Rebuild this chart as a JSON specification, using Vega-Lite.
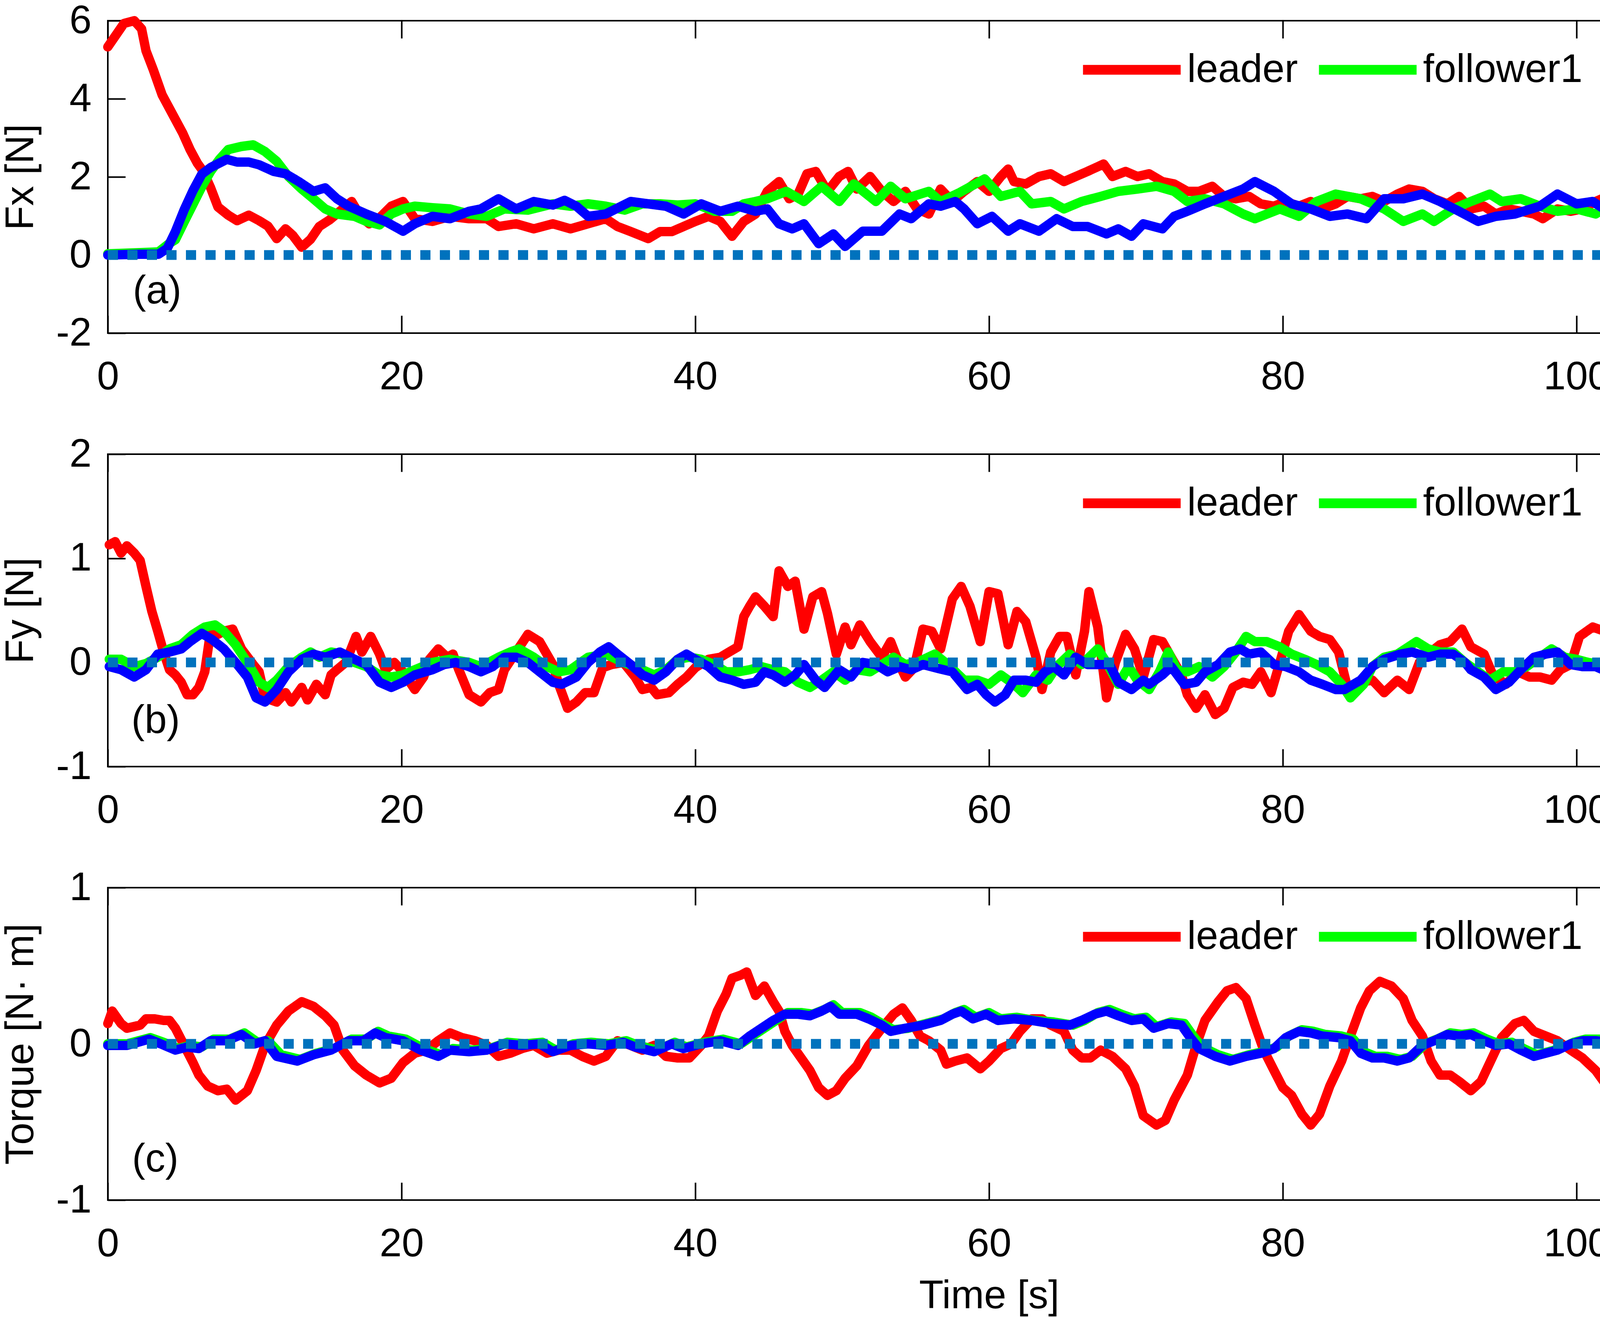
{
  "$schema": "https://vega.github.io/schema/vega-lite/v6.json",
  "background": "white",
  "padding": {"left": 0, "top": 0, "right": 0, "bottom": 0},
  "bounds": "flush",
  "spacing": 310,
  "datasets": {
    "a": [
      {"s":"leader","t":0,"v":5.33},{"s":"leader","t":1.1,"v":5.93},{"s":"leader","t":1.8,"v":6.0},{"s":"leader","t":2.3,"v":5.79},{"s":"leader","t":2.6,"v":5.23},{"s":"leader","t":3.1,"v":4.74},{"s":"leader","t":3.7,"v":4.1},{"s":"leader","t":4.2,"v":3.75},{"s":"leader","t":4.6,"v":3.47},{"s":"leader","t":5.1,"v":3.12},{"s":"leader","t":5.6,"v":2.7},{"s":"leader","t":6.1,"v":2.35},{"s":"leader","t":6.5,"v":2.14},{"s":"leader","t":7.0,"v":1.72},{"s":"leader","t":7.5,"v":1.23},{"s":"leader","t":8.2,"v":1.02},{"s":"leader","t":8.8,"v":0.88},{"s":"leader","t":9.6,"v":1.02},{"s":"leader","t":10.3,"v":0.88},{"s":"leader","t":10.9,"v":0.74},{"s":"leader","t":11.5,"v":0.42},{"s":"leader","t":12.1,"v":0.67},{"s":"leader","t":12.6,"v":0.5},{"s":"leader","t":13.2,"v":0.2},{"s":"leader","t":13.8,"v":0.4},{"s":"leader","t":14.4,"v":0.73},{"s":"leader","t":15.1,"v":0.9},{"s":"leader","t":15.8,"v":1.12},{"s":"leader","t":16.6,"v":1.37},{"s":"leader","t":17.2,"v":0.99},{"s":"leader","t":17.8,"v":0.8},{"s":"leader","t":18.5,"v":0.95},{"s":"leader","t":19.3,"v":1.25},{"s":"leader","t":20.1,"v":1.37},{"s":"leader","t":20.9,"v":0.93},{"s":"leader","t":22.1,"v":0.86},{"s":"leader","t":23.3,"v":0.99},{"s":"leader","t":24.6,"v":0.93},{"s":"leader","t":25.8,"v":0.93},{"s":"leader","t":26.6,"v":0.73},{"s":"leader","t":27.8,"v":0.8},{"s":"leader","t":29,"v":0.67},{"s":"leader","t":30.3,"v":0.8},{"s":"leader","t":31.5,"v":0.67},{"s":"leader","t":32.7,"v":0.8},{"s":"leader","t":33.9,"v":0.93},{"s":"leader","t":34.7,"v":0.73},{"s":"leader","t":35.6,"v":0.6},{"s":"leader","t":36.8,"v":0.42},{"s":"leader","t":37.6,"v":0.6},{"s":"leader","t":38.4,"v":0.6},{"s":"leader","t":39.2,"v":0.73},{"s":"leader","t":40,"v":0.86},{"s":"leader","t":40.9,"v":0.99},{"s":"leader","t":41.7,"v":0.86},{"s":"leader","t":42.5,"v":0.48},{"s":"leader","t":43.3,"v":0.86},{"s":"leader","t":44.1,"v":1.05},{"s":"leader","t":44.9,"v":1.63},{"s":"leader","t":45.7,"v":1.88},{"s":"leader","t":46.4,"v":1.44},{"s":"leader","t":47,"v":1.56},{"s":"leader","t":47.6,"v":2.08},{"s":"leader","t":48.2,"v":2.14},{"s":"leader","t":49,"v":1.63},{"s":"leader","t":49.8,"v":2.01},{"s":"leader","t":50.4,"v":2.14},{"s":"leader","t":51,"v":1.69},{"s":"leader","t":51.9,"v":2.01},{"s":"leader","t":52.7,"v":1.63},{"s":"leader","t":53.5,"v":1.37},{"s":"leader","t":54.3,"v":1.63},{"s":"leader","t":55.1,"v":1.18},{"s":"leader","t":55.9,"v":1.05},{"s":"leader","t":56.7,"v":1.69},{"s":"leader","t":57.5,"v":1.37},{"s":"leader","t":58.3,"v":1.63},{"s":"leader","t":59.2,"v":1.88},{"s":"leader","t":60,"v":1.63},{"s":"leader","t":60.8,"v":2.01},{"s":"leader","t":61.3,"v":2.2},{"s":"leader","t":61.7,"v":1.88},{"s":"leader","t":62.5,"v":1.82},{"s":"leader","t":63.4,"v":2.01},{"s":"leader","t":64.2,"v":2.08},{"s":"leader","t":65.1,"v":1.88},{"s":"leader","t":65.9,"v":2.01},{"s":"leader","t":66.7,"v":2.14},{"s":"leader","t":67.8,"v":2.33},{"s":"leader","t":68.4,"v":2.01},{"s":"leader","t":69.3,"v":2.14},{"s":"leader","t":70.1,"v":2.01},{"s":"leader","t":70.9,"v":2.08},{"s":"leader","t":71.8,"v":1.88},{"s":"leader","t":72.6,"v":1.82},{"s":"leader","t":73.5,"v":1.63},{"s":"leader","t":74.3,"v":1.63},{"s":"leader","t":75.2,"v":1.76},{"s":"leader","t":76,"v":1.5},{"s":"leader","t":76.8,"v":1.44},{"s":"leader","t":77.7,"v":1.5},{"s":"leader","t":78.5,"v":1.31},{"s":"leader","t":79.4,"v":1.25},{"s":"leader","t":80.2,"v":1.37},{"s":"leader","t":81.1,"v":1.25},{"s":"leader","t":81.9,"v":1.37},{"s":"leader","t":82.7,"v":1.18},{"s":"leader","t":83.6,"v":1.31},{"s":"leader","t":84.4,"v":1.5},{"s":"leader","t":85.3,"v":1.44},{"s":"leader","t":86.1,"v":1.5},{"s":"leader","t":86.9,"v":1.37},{"s":"leader","t":87.8,"v":1.56},{"s":"leader","t":88.6,"v":1.69},{"s":"leader","t":89.5,"v":1.63},{"s":"leader","t":90.3,"v":1.44},{"s":"leader","t":91.2,"v":1.31},{"s":"leader","t":92,"v":1.5},{"s":"leader","t":92.8,"v":1.18},{"s":"leader","t":93.7,"v":1.25},{"s":"leader","t":94.5,"v":1.05},{"s":"leader","t":95.4,"v":1.18},{"s":"leader","t":96.2,"v":1.12},{"s":"leader","t":97.1,"v":1.05},{"s":"leader","t":97.7,"v":0.93},{"s":"leader","t":98.7,"v":1.18},{"s":"leader","t":99.6,"v":1.12},{"s":"leader","t":100.4,"v":1.18},{"s":"leader","t":101.3,"v":1.37},{"s":"leader","t":102.1,"v":1.5},{"s":"leader","t":102.9,"v":1.37},{"s":"leader","t":103.8,"v":1.5},{"s":"leader","t":104.6,"v":1.5},{"s":"leader","t":105.5,"v":1.37},{"s":"leader","t":106.3,"v":1.31},{"s":"leader","t":107.2,"v":1.31},{"s":"leader","t":108,"v":1.25},{"s":"leader","t":108.8,"v":1.18},{"s":"leader","t":109.7,"v":1.12},{"s":"leader","t":110.5,"v":0.73},{"s":"leader","t":111.4,"v":0.42},{"s":"leader","t":112.2,"v":-0.22},{"s":"leader","t":113.1,"v":-1.18},{"s":"leader","t":113.9,"v":-1.44},{"s":"leader","t":114.7,"v":-1.56},{"s":"leader","t":115.6,"v":-1.76},{"s":"leader","t":116.4,"v":-1.31},{"s":"leader","t":117.3,"v":-0.86},{"s":"leader","t":118.1,"v":-0.61},{"s":"leader","t":118.9,"v":-0.42},{"s":"leader","t":119.4,"v":-0.16},{"s":"leader","t":120,"v":0.29},
      {"s":"follower1","t":0,"v":0.03},{"s":"follower1","t":2.2,"v":0.06},{"s":"follower1","t":3.45,"v":0.08},{"s":"follower1","t":4.2,"v":0.3},{"s":"follower1","t":4.6,"v":0.39},{"s":"follower1","t":5.2,"v":0.85},{"s":"follower1","t":5.8,"v":1.3},{"s":"follower1","t":6.4,"v":1.75},{"s":"follower1","t":7.0,"v":2.14},{"s":"follower1","t":7.6,"v":2.45},{"s":"follower1","t":8.2,"v":2.7},{"s":"follower1","t":9.1,"v":2.78},{"s":"follower1","t":9.9,"v":2.82},{"s":"follower1","t":10.7,"v":2.65},{"s":"follower1","t":11.5,"v":2.4},{"s":"follower1","t":12.3,"v":2.01},{"s":"follower1","t":13.2,"v":1.69},{"s":"follower1","t":14,"v":1.44},{"s":"follower1","t":14.8,"v":1.18},{"s":"follower1","t":15.6,"v":1.05},{"s":"follower1","t":16.8,"v":0.99},{"s":"follower1","t":17.6,"v":0.86},{"s":"follower1","t":18.5,"v":0.77},{"s":"follower1","t":19.3,"v":1.05},{"s":"follower1","t":20.1,"v":1.18},{"s":"follower1","t":20.9,"v":1.25},{"s":"follower1","t":22.1,"v":1.21},{"s":"follower1","t":23.3,"v":1.18},{"s":"follower1","t":24.6,"v":1.05},{"s":"follower1","t":25.8,"v":0.99},{"s":"follower1","t":27,"v":1.18},{"s":"follower1","t":28.6,"v":1.15},{"s":"follower1","t":30.3,"v":1.31},{"s":"follower1","t":31.5,"v":1.25},{"s":"follower1","t":32.7,"v":1.31},{"s":"follower1","t":33.9,"v":1.25},{"s":"follower1","t":35.2,"v":1.15},{"s":"follower1","t":36.4,"v":1.31},{"s":"follower1","t":37.6,"v":1.31},{"s":"follower1","t":38.8,"v":1.28},{"s":"follower1","t":40,"v":1.31},{"s":"follower1","t":41.3,"v":1.12},{"s":"follower1","t":42.5,"v":1.12},{"s":"follower1","t":43.3,"v":1.31},{"s":"follower1","t":44.1,"v":1.37},{"s":"follower1","t":44.9,"v":1.44},{"s":"follower1","t":46.2,"v":1.63},{"s":"follower1","t":47.4,"v":1.37},{"s":"follower1","t":48.6,"v":1.76},{"s":"follower1","t":49.8,"v":1.37},{"s":"follower1","t":50.8,"v":1.82},{"s":"follower1","t":52.3,"v":1.37},{"s":"follower1","t":53.3,"v":1.76},{"s":"follower1","t":54.3,"v":1.44},{"s":"follower1","t":55.9,"v":1.63},{"s":"follower1","t":56.7,"v":1.37},{"s":"follower1","t":58,"v":1.6},{"s":"follower1","t":59.7,"v":1.95},{"s":"follower1","t":60.8,"v":1.5},{"s":"follower1","t":62.1,"v":1.63},{"s":"follower1","t":62.9,"v":1.31},{"s":"follower1","t":64.2,"v":1.37},{"s":"follower1","t":65.1,"v":1.18},{"s":"follower1","t":66.3,"v":1.37},{"s":"follower1","t":67.6,"v":1.5},{"s":"follower1","t":68.8,"v":1.63},{"s":"follower1","t":70.1,"v":1.69},{"s":"follower1","t":71.4,"v":1.76},{"s":"follower1","t":72.6,"v":1.63},{"s":"follower1","t":73.5,"v":1.37},{"s":"follower1","t":74.7,"v":1.44},{"s":"follower1","t":76,"v":1.31},{"s":"follower1","t":77.3,"v":1.05},{"s":"follower1","t":78.1,"v":0.93},{"s":"follower1","t":79.8,"v":1.18},{"s":"follower1","t":81.1,"v":0.99},{"s":"follower1","t":82.3,"v":1.37},{"s":"follower1","t":83.6,"v":1.56},{"s":"follower1","t":85.3,"v":1.44},{"s":"follower1","t":86.9,"v":1.18},{"s":"follower1","t":88.2,"v":0.86},{"s":"follower1","t":89.5,"v":1.05},{"s":"follower1","t":90.3,"v":0.86},{"s":"follower1","t":91.6,"v":1.18},{"s":"follower1","t":92.8,"v":1.37},{"s":"follower1","t":94.1,"v":1.56},{"s":"follower1","t":94.9,"v":1.37},{"s":"follower1","t":96.2,"v":1.44},{"s":"follower1","t":97.5,"v":1.25},{"s":"follower1","t":98.7,"v":1.12},{"s":"follower1","t":100,"v":1.18},{"s":"follower1","t":101.3,"v":1.05},{"s":"follower1","t":102.1,"v":1.25},{"s":"follower1","t":103.4,"v":1.31},{"s":"follower1","t":104.6,"v":1.31},{"s":"follower1","t":105.9,"v":1.25},{"s":"follower1","t":107.2,"v":1.18},{"s":"follower1","t":108.4,"v":0.99},{"s":"follower1","t":109.7,"v":1.31},{"s":"follower1","t":110.9,"v":1.31},{"s":"follower1","t":112.6,"v":1.25},{"s":"follower1","t":114.7,"v":1.25},{"s":"follower1","t":116,"v":0.99},{"s":"follower1","t":117.3,"v":0.61},{"s":"follower1","t":118.5,"v":0.16},{"s":"follower1","t":120,"v":-0.22},
      {"s":"follower2","t":0,"v":0},{"s":"follower2","t":2.2,"v":0.02},{"s":"follower2","t":3.45,"v":0.02},{"s":"follower2","t":4.05,"v":0.17},{"s":"follower2","t":4.6,"v":0.6},{"s":"follower2","t":5.2,"v":1.16},{"s":"follower2","t":5.8,"v":1.65},{"s":"follower2","t":6.4,"v":2.07},{"s":"follower2","t":7.0,"v":2.24},{"s":"follower2","t":8.1,"v":2.45},{"s":"follower2","t":8.8,"v":2.38},{"s":"follower2","t":9.6,"v":2.38},{"s":"follower2","t":10.3,"v":2.31},{"s":"follower2","t":11.3,"v":2.14},{"s":"follower2","t":12.1,"v":2.08},{"s":"follower2","t":13,"v":1.88},{"s":"follower2","t":14,"v":1.63},{"s":"follower2","t":14.8,"v":1.72},{"s":"follower2","t":15.6,"v":1.44},{"s":"follower2","t":16.4,"v":1.25},{"s":"follower2","t":17.6,"v":1.05},{"s":"follower2","t":18.9,"v":0.86},{"s":"follower2","t":20.1,"v":0.61},{"s":"follower2","t":20.9,"v":0.8},{"s":"follower2","t":22.1,"v":0.99},{"s":"follower2","t":23.3,"v":0.93},{"s":"follower2","t":24.6,"v":1.12},{"s":"follower2","t":25.4,"v":1.18},{"s":"follower2","t":26.6,"v":1.44},{"s":"follower2","t":27.8,"v":1.18},{"s":"follower2","t":29,"v":1.37},{"s":"follower2","t":30.3,"v":1.28},{"s":"follower2","t":31.1,"v":1.4},{"s":"follower2","t":31.9,"v":1.25},{"s":"follower2","t":32.7,"v":0.99},{"s":"follower2","t":33.9,"v":1.05},{"s":"follower2","t":35.6,"v":1.37},{"s":"follower2","t":36.8,"v":1.31},{"s":"follower2","t":38,"v":1.25},{"s":"follower2","t":39.2,"v":1.05},{"s":"follower2","t":40.4,"v":1.31},{"s":"follower2","t":41.7,"v":1.12},{"s":"follower2","t":42.9,"v":1.25},{"s":"follower2","t":44.1,"v":1.12},{"s":"follower2","t":44.9,"v":1.18},{"s":"follower2","t":45.7,"v":0.8},{"s":"follower2","t":46.6,"v":0.67},{"s":"follower2","t":47.4,"v":0.8},{"s":"follower2","t":48.4,"v":0.29},{"s":"follower2","t":49.4,"v":0.54},{"s":"follower2","t":50.2,"v":0.22},{"s":"follower2","t":51.4,"v":0.61},{"s":"follower2","t":52.7,"v":0.61},{"s":"follower2","t":53.9,"v":1.05},{"s":"follower2","t":54.7,"v":0.93},{"s":"follower2","t":55.9,"v":1.31},{"s":"follower2","t":56.7,"v":1.25},{"s":"follower2","t":57.7,"v":1.37},{"s":"follower2","t":58.3,"v":1.18},{"s":"follower2","t":59.2,"v":0.8},{"s":"follower2","t":60.2,"v":0.99},{"s":"follower2","t":61.3,"v":0.61},{"s":"follower2","t":62.1,"v":0.8},{"s":"follower2","t":63.4,"v":0.61},{"s":"follower2","t":64.6,"v":0.93},{"s":"follower2","t":65.7,"v":0.73},{"s":"follower2","t":66.7,"v":0.73},{"s":"follower2","t":68,"v":0.54},{"s":"follower2","t":68.8,"v":0.67},{"s":"follower2","t":69.7,"v":0.48},{"s":"follower2","t":70.5,"v":0.8},{"s":"follower2","t":71.8,"v":0.67},{"s":"follower2","t":72.6,"v":0.99},{"s":"follower2","t":73.5,"v":1.12},{"s":"follower2","t":74.7,"v":1.31},{"s":"follower2","t":76,"v":1.5},{"s":"follower2","t":77.3,"v":1.69},{"s":"follower2","t":78.1,"v":1.88},{"s":"follower2","t":79.4,"v":1.63},{"s":"follower2","t":80.6,"v":1.31},{"s":"follower2","t":81.9,"v":1.18},{"s":"follower2","t":83.2,"v":0.99},{"s":"follower2","t":84.4,"v":1.05},{"s":"follower2","t":85.7,"v":0.93},{"s":"follower2","t":86.9,"v":1.44},{"s":"follower2","t":88.2,"v":1.44},{"s":"follower2","t":89.5,"v":1.56},{"s":"follower2","t":90.7,"v":1.37},{"s":"follower2","t":92,"v":1.12},{"s":"follower2","t":93.3,"v":0.86},{"s":"follower2","t":94.5,"v":0.99},{"s":"follower2","t":95.8,"v":1.05},{"s":"follower2","t":97.5,"v":1.25},{"s":"follower2","t":98.7,"v":1.56},{"s":"follower2","t":100,"v":1.31},{"s":"follower2","t":101.1,"v":1.37},{"s":"follower2","t":102.1,"v":1.12},{"s":"follower2","t":103.4,"v":0.93},{"s":"follower2","t":105.1,"v":0.99},{"s":"follower2","t":106.7,"v":1.05},{"s":"follower2","t":108.4,"v":1.44},{"s":"follower2","t":109.7,"v":1.25},{"s":"follower2","t":110.9,"v":1.25},{"s":"follower2","t":112.6,"v":1.18},{"s":"follower2","t":113.9,"v":1.12},{"s":"follower2","t":115.2,"v":1.12},{"s":"follower2","t":116.4,"v":0.86},{"s":"follower2","t":117.7,"v":0.42},{"s":"follower2","t":118.9,"v":0.03},{"s":"follower2","t":120,"v":-0.29}
    ],
    "b": [
      {"s":"leader","t":0.1,"v":1.13},{"s":"leader","t":0.5,"v":1.16},{"s":"leader","t":0.9,"v":1.05},{"s":"leader","t":1.3,"v":1.12},{"s":"leader","t":1.8,"v":1.05},{"s":"leader","t":2.2,"v":0.98},{"s":"leader","t":2.6,"v":0.73},{"s":"leader","t":3,"v":0.49},{"s":"leader","t":3.4,"v":0.3},{"s":"leader","t":3.8,"v":0.1},{"s":"leader","t":4.2,"v":-0.07},{"s":"leader","t":4.6,"v":-0.12},{"s":"leader","t":5,"v":-0.19},{"s":"leader","t":5.4,"v":-0.31},{"s":"leader","t":5.8,"v":-0.31},{"s":"leader","t":6.2,"v":-0.24},{"s":"leader","t":6.6,"v":-0.09},{"s":"leader","t":7,"v":0.3},{"s":"leader","t":7.5,"v":0.27},{"s":"leader","t":7.9,"v":0.3},{"s":"leader","t":8.5,"v":0.32},{"s":"leader","t":9.1,"v":0.13},{"s":"leader","t":9.9,"v":-0.02},{"s":"leader","t":10.3,"v":-0.09},{"s":"leader","t":10.7,"v":-0.34},{"s":"leader","t":11.5,"v":-0.38},{"s":"leader","t":12.1,"v":-0.29},{"s":"leader","t":12.5,"v":-0.38},{"s":"leader","t":13.2,"v":-0.24},{"s":"leader","t":13.6,"v":-0.36},{"s":"leader","t":14.2,"v":-0.21},{"s":"leader","t":14.8,"v":-0.31},{"s":"leader","t":15.2,"v":-0.12},{"s":"leader","t":15.6,"v":-0.07},{"s":"leader","t":16.2,"v":0},{"s":"leader","t":16.9,"v":0.25},{"s":"leader","t":17.3,"v":0.1},{"s":"leader","t":17.9,"v":0.25},{"s":"leader","t":18.5,"v":0.08},{"s":"leader","t":18.9,"v":-0.07},{"s":"leader","t":19.5,"v":0},{"s":"leader","t":20.1,"v":-0.09},{"s":"leader","t":20.9,"v":-0.26},{"s":"leader","t":21.5,"v":-0.14},{"s":"leader","t":21.9,"v":0.03},{"s":"leader","t":22.5,"v":0.13},{"s":"leader","t":23.1,"v":0.05},{"s":"leader","t":23.5,"v":0.08},{"s":"leader","t":23.9,"v":-0.07},{"s":"leader","t":24.6,"v":-0.31},{"s":"leader","t":25.4,"v":-0.38},{"s":"leader","t":26,"v":-0.29},{"s":"leader","t":26.6,"v":-0.26},{"s":"leader","t":27,"v":-0.07},{"s":"leader","t":27.8,"v":0.1},{"s":"leader","t":28.6,"v":0.27},{"s":"leader","t":29.4,"v":0.2},{"s":"leader","t":30.3,"v":-0.02},{"s":"leader","t":30.7,"v":-0.21},{"s":"leader","t":31.3,"v":-0.44},{"s":"leader","t":31.9,"v":-0.38},{"s":"leader","t":32.5,"v":-0.29},{"s":"leader","t":33.1,"v":-0.29},{"s":"leader","t":33.7,"v":-0.05},{"s":"leader","t":34.3,"v":-0.02},{"s":"leader","t":35.1,"v":0},{"s":"leader","t":35.9,"v":-0.14},{"s":"leader","t":36.4,"v":-0.26},{"s":"leader","t":37,"v":-0.24},{"s":"leader","t":37.4,"v":-0.31},{"s":"leader","t":38.2,"v":-0.29},{"s":"leader","t":38.8,"v":-0.21},{"s":"leader","t":39.4,"v":-0.14},{"s":"leader","t":40,"v":-0.05},{"s":"leader","t":40.9,"v":0.03},{"s":"leader","t":41.7,"v":0.05},{"s":"leader","t":42.3,"v":0.1},{"s":"leader","t":42.9,"v":0.15},{"s":"leader","t":43.3,"v":0.44},{"s":"leader","t":43.7,"v":0.54},{"s":"leader","t":44.1,"v":0.63},{"s":"leader","t":44.7,"v":0.54},{"s":"leader","t":45.3,"v":0.44},{"s":"leader","t":45.7,"v":0.88},{"s":"leader","t":46.3,"v":0.73},{"s":"leader","t":46.8,"v":0.78},{"s":"leader","t":47.4,"v":0.32},{"s":"leader","t":48,"v":0.63},{"s":"leader","t":48.6,"v":0.68},{"s":"leader","t":49,"v":0.47},{"s":"leader","t":49.6,"v":0.08},{"s":"leader","t":50.2,"v":0.34},{"s":"leader","t":50.6,"v":0.17},{"s":"leader","t":51.2,"v":0.36},{"s":"leader","t":51.9,"v":0.2},{"s":"leader","t":52.7,"v":0.05},{"s":"leader","t":53.3,"v":0.2},{"s":"leader","t":53.9,"v":-0.02},{"s":"leader","t":54.3,"v":-0.14},{"s":"leader","t":54.9,"v":-0.05},{"s":"leader","t":55.5,"v":0.32},{"s":"leader","t":56.1,"v":0.3},{"s":"leader","t":56.7,"v":0.13},{"s":"leader","t":57.5,"v":0.61},{"s":"leader","t":58.1,"v":0.73},{"s":"leader","t":58.7,"v":0.54},{"s":"leader","t":59.4,"v":0.2},{"s":"leader","t":60,"v":0.68},{"s":"leader","t":60.6,"v":0.66},{"s":"leader","t":61.3,"v":0.17},{"s":"leader","t":61.9,"v":0.49},{"s":"leader","t":62.5,"v":0.39},{"s":"leader","t":63.2,"v":0.05},{"s":"leader","t":63.6,"v":-0.26},{"s":"leader","t":64.2,"v":0.1},{"s":"leader","t":64.8,"v":0.25},{"s":"leader","t":65.3,"v":0.25},{"s":"leader","t":65.9,"v":-0.12},{"s":"leader","t":66.5,"v":0.3},{"s":"leader","t":66.8,"v":0.68},{"s":"leader","t":67.4,"v":0.34},{"s":"leader","t":68,"v":-0.34},{"s":"leader","t":68.6,"v":0},{"s":"leader","t":69.3,"v":0.27},{"s":"leader","t":69.9,"v":0.13},{"s":"leader","t":70.5,"v":-0.14},{"s":"leader","t":71.2,"v":0.22},{"s":"leader","t":71.8,"v":0.2},{"s":"leader","t":72.4,"v":0.05},{"s":"leader","t":73.1,"v":-0.12},{"s":"leader","t":73.5,"v":-0.31},{"s":"leader","t":74.1,"v":-0.44},{"s":"leader","t":74.7,"v":-0.31},{"s":"leader","t":75.4,"v":-0.5},{"s":"leader","t":76,"v":-0.44},{"s":"leader","t":76.6,"v":-0.24},{"s":"leader","t":77.3,"v":-0.19},{"s":"leader","t":77.9,"v":-0.21},{"s":"leader","t":78.5,"v":-0.09},{"s":"leader","t":79.2,"v":-0.29},{"s":"leader","t":79.8,"v":0},{"s":"leader","t":80.4,"v":0.3},{"s":"leader","t":81.1,"v":0.46},{"s":"leader","t":81.9,"v":0.3},{"s":"leader","t":82.5,"v":0.25},{"s":"leader","t":83.2,"v":0.22},{"s":"leader","t":83.8,"v":0.1},{"s":"leader","t":84.4,"v":-0.24},{"s":"leader","t":85.3,"v":-0.19},{"s":"leader","t":86.1,"v":-0.17},{"s":"leader","t":86.9,"v":-0.29},{"s":"leader","t":87.8,"v":-0.17},{"s":"leader","t":88.6,"v":-0.26},{"s":"leader","t":89.3,"v":0},{"s":"leader","t":89.9,"v":0.08},{"s":"leader","t":90.7,"v":0.17},{"s":"leader","t":91.4,"v":0.2},{"s":"leader","t":92.2,"v":0.32},{"s":"leader","t":92.8,"v":0.15},{"s":"leader","t":93.7,"v":0.08},{"s":"leader","t":94.3,"v":-0.12},{"s":"leader","t":95.2,"v":-0.21},{"s":"leader","t":96,"v":-0.09},{"s":"leader","t":96.8,"v":-0.14},{"s":"leader","t":97.5,"v":-0.14},{"s":"leader","t":98.3,"v":-0.17},{"s":"leader","t":98.9,"v":-0.07},{"s":"leader","t":99.6,"v":-0.02},{"s":"leader","t":100.2,"v":0.25},{"s":"leader","t":101.1,"v":0.34},{"s":"leader","t":101.9,"v":0.3},{"s":"leader","t":102.5,"v":0.1},{"s":"leader","t":103.2,"v":0},{"s":"leader","t":103.8,"v":-0.24},{"s":"leader","t":104.4,"v":-0.36},{"s":"leader","t":105.1,"v":-0.38},{"s":"leader","t":105.7,"v":-0.44},{"s":"leader","t":106.3,"v":-0.34},{"s":"leader","t":107,"v":-0.17},{"s":"leader","t":107.8,"v":-0.24},{"s":"leader","t":108.4,"v":-0.12},{"s":"leader","t":109.3,"v":-0.02},{"s":"leader","t":109.9,"v":0.08},{"s":"leader","t":110.5,"v":0.1},{"s":"leader","t":111.2,"v":0.13},{"s":"leader","t":111.8,"v":-0.05},{"s":"leader","t":112.4,"v":-0.12},{"s":"leader","t":113.3,"v":-0.26},{"s":"leader","t":113.9,"v":-0.17},{"s":"leader","t":114.7,"v":0},{"s":"leader","t":115.6,"v":0.05},{"s":"leader","t":116.4,"v":0.05},{"s":"leader","t":117.3,"v":-0.05},{"s":"leader","t":118.1,"v":-0.21},{"s":"leader","t":118.7,"v":-0.34},{"s":"leader","t":119.4,"v":-0.19},{"s":"leader","t":120,"v":-0.05},
      {"s":"follower1","t":0.1,"v":0.03},{"s":"follower1","t":0.9,"v":0.03},{"s":"follower1","t":1.8,"v":-0.04},{"s":"follower1","t":2.6,"v":-0.01},{"s":"follower1","t":3.4,"v":0.05},{"s":"follower1","t":4.2,"v":0.13},{"s":"follower1","t":5,"v":0.17},{"s":"follower1","t":5.8,"v":0.27},{"s":"follower1","t":6.6,"v":0.34},{"s":"follower1","t":7.3,"v":0.36},{"s":"follower1","t":7.9,"v":0.3},{"s":"follower1","t":8.7,"v":0.17},{"s":"follower1","t":9.5,"v":0},{"s":"follower1","t":10.3,"v":-0.19},{"s":"follower1","t":10.9,"v":-0.24},{"s":"follower1","t":11.5,"v":-0.17},{"s":"follower1","t":12.3,"v":-0.04},{"s":"follower1","t":13.2,"v":0.05},{"s":"follower1","t":13.8,"v":0.1},{"s":"follower1","t":14.4,"v":0.05},{"s":"follower1","t":15.2,"v":0.1},{"s":"follower1","t":16,"v":0.08},{"s":"follower1","t":16.8,"v":0},{"s":"follower1","t":17.6,"v":-0.04},{"s":"follower1","t":18.5,"v":-0.12},{"s":"follower1","t":19.3,"v":-0.14},{"s":"follower1","t":20.1,"v":-0.12},{"s":"follower1","t":20.9,"v":-0.07},{"s":"follower1","t":22.1,"v":0},{"s":"follower1","t":23.3,"v":0.03},{"s":"follower1","t":24.6,"v":0},{"s":"follower1","t":25.4,"v":-0.04},{"s":"follower1","t":26.6,"v":0.05},{"s":"follower1","t":27.4,"v":0.1},{"s":"follower1","t":28,"v":0.13},{"s":"follower1","t":29,"v":0.05},{"s":"follower1","t":29.9,"v":-0.04},{"s":"follower1","t":30.7,"v":-0.09},{"s":"follower1","t":31.5,"v":-0.07},{"s":"follower1","t":32.7,"v":0.05},{"s":"follower1","t":33.9,"v":0.08},{"s":"follower1","t":35.1,"v":0},{"s":"follower1","t":35.9,"v":-0.04},{"s":"follower1","t":37.2,"v":-0.12},{"s":"follower1","t":38,"v":-0.07},{"s":"follower1","t":38.8,"v":0.03},{"s":"follower1","t":39.6,"v":0.05},{"s":"follower1","t":40.4,"v":0.03},{"s":"follower1","t":41.3,"v":-0.02},{"s":"follower1","t":42.1,"v":-0.09},{"s":"follower1","t":42.9,"v":-0.09},{"s":"follower1","t":43.7,"v":-0.07},{"s":"follower1","t":44.5,"v":-0.04},{"s":"follower1","t":45.3,"v":-0.07},{"s":"follower1","t":46.1,"v":-0.09},{"s":"follower1","t":47,"v":-0.19},{"s":"follower1","t":47.8,"v":-0.24},{"s":"follower1","t":48.6,"v":-0.17},{"s":"follower1","t":49.4,"v":-0.09},{"s":"follower1","t":50.2,"v":-0.17},{"s":"follower1","t":51,"v":-0.07},{"s":"follower1","t":51.9,"v":-0.09},{"s":"follower1","t":52.7,"v":-0.02},{"s":"follower1","t":53.5,"v":0.05},{"s":"follower1","t":54.3,"v":-0.02},{"s":"follower1","t":55.1,"v":0},{"s":"follower1","t":56.3,"v":0.08},{"s":"follower1","t":57.2,"v":-0.02},{"s":"follower1","t":58.3,"v":-0.17},{"s":"follower1","t":59.2,"v":-0.17},{"s":"follower1","t":60,"v":-0.21},{"s":"follower1","t":60.8,"v":-0.12},{"s":"follower1","t":61.7,"v":-0.21},{"s":"follower1","t":62.3,"v":-0.29},{"s":"follower1","t":63.2,"v":-0.12},{"s":"follower1","t":64,"v":-0.17},{"s":"follower1","t":64.6,"v":-0.04},{"s":"follower1","t":65.5,"v":0.08},{"s":"follower1","t":66.3,"v":-0.02},{"s":"follower1","t":67.4,"v":0.13},{"s":"follower1","t":68,"v":0},{"s":"follower1","t":68.8,"v":-0.21},{"s":"follower1","t":69.5,"v":-0.04},{"s":"follower1","t":70.1,"v":-0.17},{"s":"follower1","t":70.9,"v":-0.26},{"s":"follower1","t":71.6,"v":-0.09},{"s":"follower1","t":72.2,"v":0.1},{"s":"follower1","t":72.8,"v":-0.07},{"s":"follower1","t":73.5,"v":-0.09},{"s":"follower1","t":74.3,"v":-0.04},{"s":"follower1","t":75.2,"v":-0.14},{"s":"follower1","t":76,"v":-0.04},{"s":"follower1","t":76.8,"v":0.1},{"s":"follower1","t":77.5,"v":0.25},{"s":"follower1","t":78.1,"v":0.2},{"s":"follower1","t":78.9,"v":0.2},{"s":"follower1","t":79.8,"v":0.15},{"s":"follower1","t":80.6,"v":0.08},{"s":"follower1","t":81.5,"v":0.03},{"s":"follower1","t":82.3,"v":-0.02},{"s":"follower1","t":83.2,"v":-0.09},{"s":"follower1","t":84,"v":-0.21},{"s":"follower1","t":84.6,"v":-0.34},{"s":"follower1","t":85.5,"v":-0.21},{"s":"follower1","t":86.1,"v":-0.04},{"s":"follower1","t":86.9,"v":0.05},{"s":"follower1","t":87.8,"v":0.08},{"s":"follower1","t":89.1,"v":0.2},{"s":"follower1","t":89.9,"v":0.13},{"s":"follower1","t":90.7,"v":0.1},{"s":"follower1","t":91.6,"v":0.1},{"s":"follower1","t":92.4,"v":0},{"s":"follower1","t":93.3,"v":-0.09},{"s":"follower1","t":94.1,"v":-0.17},{"s":"follower1","t":95,"v":-0.09},{"s":"follower1","t":95.8,"v":-0.09},{"s":"follower1","t":96.6,"v":-0.04},{"s":"follower1","t":97.5,"v":0.05},{"s":"follower1","t":98.3,"v":0.13},{"s":"follower1","t":99.2,"v":0.05},{"s":"follower1","t":100,"v":0.03},{"s":"follower1","t":100.8,"v":0},{"s":"follower1","t":101.7,"v":-0.02},{"s":"follower1","t":102.5,"v":-0.04},{"s":"follower1","t":103.4,"v":-0.09},{"s":"follower1","t":104.2,"v":-0.14},{"s":"follower1","t":105.1,"v":-0.14},{"s":"follower1","t":105.9,"v":-0.04},{"s":"follower1","t":106.7,"v":0.13},{"s":"follower1","t":107.6,"v":0.25},{"s":"follower1","t":108.4,"v":0.2},{"s":"follower1","t":109.3,"v":0.08},{"s":"follower1","t":110.1,"v":-0.02},{"s":"follower1","t":110.9,"v":-0.04},{"s":"follower1","t":111.8,"v":-0.07},{"s":"follower1","t":112.6,"v":-0.09},{"s":"follower1","t":113.5,"v":-0.09},{"s":"follower1","t":114.3,"v":-0.07},{"s":"follower1","t":115.2,"v":0},{"s":"follower1","t":116,"v":0.1},{"s":"follower1","t":116.8,"v":0.15},{"s":"follower1","t":117.7,"v":0.08},{"s":"follower1","t":118.5,"v":-0.04},{"s":"follower1","t":119.4,"v":0.03},{"s":"follower1","t":120,"v":0.03},
      {"s":"follower2","t":0.1,"v":-0.04},{"s":"follower2","t":0.9,"v":-0.07},{"s":"follower2","t":1.8,"v":-0.14},{"s":"follower2","t":2.6,"v":-0.07},{"s":"follower2","t":3.4,"v":0.08},{"s":"follower2","t":4.2,"v":0.1},{"s":"follower2","t":5,"v":0.13},{"s":"follower2","t":5.6,"v":0.2},{"s":"follower2","t":6.4,"v":0.28},{"s":"follower2","t":7.1,"v":0.22},{"s":"follower2","t":7.9,"v":0.13},{"s":"follower2","t":8.7,"v":0},{"s":"follower2","t":9.5,"v":-0.14},{"s":"follower2","t":10.1,"v":-0.34},{"s":"follower2","t":10.7,"v":-0.38},{"s":"follower2","t":11.5,"v":-0.26},{"s":"follower2","t":12.3,"v":-0.09},{"s":"follower2","t":13.2,"v":0.03},{"s":"follower2","t":14,"v":0.08},{"s":"follower2","t":14.8,"v":0.05},{"s":"follower2","t":15.8,"v":0.1},{"s":"follower2","t":16.8,"v":0.03},{"s":"follower2","t":17.6,"v":-0.02},{"s":"follower2","t":18.5,"v":-0.19},{"s":"follower2","t":19.3,"v":-0.24},{"s":"follower2","t":20.1,"v":-0.19},{"s":"follower2","t":20.9,"v":-0.12},{"s":"follower2","t":22.1,"v":-0.07},{"s":"follower2","t":22.9,"v":-0.02},{"s":"follower2","t":23.7,"v":0},{"s":"follower2","t":24.6,"v":-0.04},{"s":"follower2","t":25.4,"v":-0.09},{"s":"follower2","t":26.2,"v":-0.04},{"s":"follower2","t":27,"v":0.05},{"s":"follower2","t":27.8,"v":0.05},{"s":"follower2","t":28.6,"v":0},{"s":"follower2","t":29.4,"v":-0.09},{"s":"follower2","t":30.3,"v":-0.19},{"s":"follower2","t":30.9,"v":-0.21},{"s":"follower2","t":31.9,"v":-0.14},{"s":"follower2","t":32.7,"v":0},{"s":"follower2","t":33.5,"v":0.1},{"s":"follower2","t":34.1,"v":0.15},{"s":"follower2","t":34.7,"v":0.08},{"s":"follower2","t":35.6,"v":-0.02},{"s":"follower2","t":36.4,"v":-0.12},{"s":"follower2","t":37.2,"v":-0.17},{"s":"follower2","t":38,"v":-0.09},{"s":"follower2","t":38.8,"v":0.03},{"s":"follower2","t":39.4,"v":0.08},{"s":"follower2","t":40,"v":0.03},{"s":"follower2","t":40.9,"v":-0.04},{"s":"follower2","t":41.7,"v":-0.14},{"s":"follower2","t":42.5,"v":-0.17},{"s":"follower2","t":43.3,"v":-0.21},{"s":"follower2","t":44.1,"v":-0.19},{"s":"follower2","t":44.7,"v":-0.09},{"s":"follower2","t":45.3,"v":-0.12},{"s":"follower2","t":46.1,"v":-0.19},{"s":"follower2","t":46.8,"v":-0.12},{"s":"follower2","t":47.4,"v":-0.02},{"s":"follower2","t":48.2,"v":-0.17},{"s":"follower2","t":48.8,"v":-0.24},{"s":"follower2","t":49.8,"v":-0.07},{"s":"follower2","t":50.6,"v":-0.14},{"s":"follower2","t":51.4,"v":0},{"s":"follower2","t":52.3,"v":-0.02},{"s":"follower2","t":53.1,"v":-0.09},{"s":"follower2","t":53.9,"v":-0.04},{"s":"follower2","t":54.7,"v":-0.07},{"s":"follower2","t":55.5,"v":-0.02},{"s":"follower2","t":56.6,"v":-0.06},{"s":"follower2","t":57.5,"v":-0.09},{"s":"follower2","t":58.5,"v":-0.26},{"s":"follower2","t":59.2,"v":-0.21},{"s":"follower2","t":59.8,"v":-0.31},{"s":"follower2","t":60.4,"v":-0.38},{"s":"follower2","t":61.1,"v":-0.31},{"s":"follower2","t":61.7,"v":-0.17},{"s":"follower2","t":62.5,"v":-0.17},{"s":"follower2","t":63.2,"v":-0.19},{"s":"follower2","t":63.8,"v":-0.09},{"s":"follower2","t":64.4,"v":-0.04},{"s":"follower2","t":65.1,"v":-0.12},{"s":"follower2","t":65.9,"v":0.05},{"s":"follower2","t":66.7,"v":-0.02},{"s":"follower2","t":67.6,"v":-0.02},{"s":"follower2","t":68.2,"v":-0.02},{"s":"follower2","t":68.8,"v":-0.19},{"s":"follower2","t":69.7,"v":-0.26},{"s":"follower2","t":70.5,"v":-0.17},{"s":"follower2","t":70.9,"v":-0.21},{"s":"follower2","t":71.8,"v":-0.12},{"s":"follower2","t":72.4,"v":-0.04},{"s":"follower2","t":73.3,"v":-0.21},{"s":"follower2","t":74.1,"v":-0.19},{"s":"follower2","t":74.7,"v":-0.09},{"s":"follower2","t":75.6,"v":-0.02},{"s":"follower2","t":76.4,"v":0.1},{"s":"follower2","t":77.1,"v":0.13},{"s":"follower2","t":77.7,"v":0.08},{"s":"follower2","t":78.5,"v":0.1},{"s":"follower2","t":79.4,"v":-0.02},{"s":"follower2","t":80.2,"v":-0.04},{"s":"follower2","t":81.1,"v":-0.09},{"s":"follower2","t":81.9,"v":-0.17},{"s":"follower2","t":82.7,"v":-0.21},{"s":"follower2","t":83.6,"v":-0.26},{"s":"follower2","t":84.2,"v":-0.26},{"s":"follower2","t":85.3,"v":-0.17},{"s":"follower2","t":86.1,"v":-0.04},{"s":"follower2","t":86.9,"v":0.03},{"s":"follower2","t":88,"v":0.08},{"s":"follower2","t":88.8,"v":0.1},{"s":"follower2","t":89.9,"v":0.05},{"s":"follower2","t":90.7,"v":0.08},{"s":"follower2","t":91.6,"v":0.08},{"s":"follower2","t":92.4,"v":0},{"s":"follower2","t":92.8,"v":-0.07},{"s":"follower2","t":93.7,"v":-0.14},{"s":"follower2","t":94.5,"v":-0.26},{"s":"follower2","t":95.4,"v":-0.19},{"s":"follower2","t":96.2,"v":-0.07},{"s":"follower2","t":97.1,"v":0.05},{"s":"follower2","t":97.9,"v":0.08},{"s":"follower2","t":98.7,"v":0.1},{"s":"follower2","t":99.6,"v":-0.02},{"s":"follower2","t":100.4,"v":-0.04},{"s":"follower2","t":101.3,"v":-0.04},{"s":"follower2","t":102.1,"v":-0.09},{"s":"follower2","t":102.9,"v":-0.14},{"s":"follower2","t":103.6,"v":-0.24},{"s":"follower2","t":104.4,"v":-0.19},{"s":"follower2","t":105.5,"v":-0.02},{"s":"follower2","t":106.5,"v":0.15},{"s":"follower2","t":107.4,"v":0.15},{"s":"follower2","t":108.4,"v":0.08},{"s":"follower2","t":109.3,"v":0},{"s":"follower2","t":110.1,"v":-0.12},{"s":"follower2","t":110.9,"v":-0.14},{"s":"follower2","t":111.8,"v":-0.17},{"s":"follower2","t":112.8,"v":-0.26},{"s":"follower2","t":113.7,"v":-0.19},{"s":"follower2","t":114.5,"v":-0.07},{"s":"follower2","t":115.4,"v":0.03},{"s":"follower2","t":116.4,"v":0},{"s":"follower2","t":117.3,"v":0.08},{"s":"follower2","t":118.1,"v":0.03},{"s":"follower2","t":118.7,"v":0.1},{"s":"follower2","t":119.4,"v":0.05},{"s":"follower2","t":120,"v":0.04}
    ],
    "c": [
      {"s":"leader","t":0,"v":0.13},{"s":"leader","t":0.3,"v":0.21},{"s":"leader","t":0.9,"v":0.13},{"s":"leader","t":1.3,"v":0.1},{"s":"leader","t":2.2,"v":0.12},{"s":"leader","t":2.6,"v":0.16},{"s":"leader","t":3.2,"v":0.16},{"s":"leader","t":3.8,"v":0.15},{"s":"leader","t":4.2,"v":0.15},{"s":"leader","t":4.6,"v":0.1},{"s":"leader","t":5.2,"v":-0.01},{"s":"leader","t":5.8,"v":-0.12},{"s":"leader","t":6.2,"v":-0.2},{"s":"leader","t":6.8,"v":-0.27},{"s":"leader","t":7.5,"v":-0.3},{"s":"leader","t":8.1,"v":-0.29},{"s":"leader","t":8.7,"v":-0.36},{"s":"leader","t":9.5,"v":-0.3},{"s":"leader","t":10.1,"v":-0.17},{"s":"leader","t":10.7,"v":-0.01},{"s":"leader","t":11.5,"v":0.12},{"s":"leader","t":12.3,"v":0.21},{"s":"leader","t":13.2,"v":0.27},{"s":"leader","t":14,"v":0.24},{"s":"leader","t":14.8,"v":0.18},{"s":"leader","t":15.4,"v":0.12},{"s":"leader","t":16,"v":-0.04},{"s":"leader","t":16.8,"v":-0.14},{"s":"leader","t":17.6,"v":-0.2},{"s":"leader","t":18.5,"v":-0.25},{"s":"leader","t":19.3,"v":-0.22},{"s":"leader","t":20.1,"v":-0.12},{"s":"leader","t":20.9,"v":-0.06},{"s":"leader","t":21.7,"v":-0.04},{"s":"leader","t":22.5,"v":0.02},{"s":"leader","t":23.3,"v":0.07},{"s":"leader","t":24.1,"v":0.04},{"s":"leader","t":25,"v":0.02},{"s":"leader","t":25.8,"v":-0.01},{"s":"leader","t":26.6,"v":-0.08},{"s":"leader","t":27.4,"v":-0.06},{"s":"leader","t":28.2,"v":-0.03},{"s":"leader","t":29,"v":-0.01},{"s":"leader","t":29.9,"v":-0.06},{"s":"leader","t":30.7,"v":-0.04},{"s":"leader","t":31.5,"v":-0.04},{"s":"leader","t":32.3,"v":-0.08},{"s":"leader","t":33.1,"v":-0.11},{"s":"leader","t":33.9,"v":-0.08},{"s":"leader","t":34.7,"v":0.02},{"s":"leader","t":35.6,"v":-0.01},{"s":"leader","t":36.4,"v":-0.04},{"s":"leader","t":37.2,"v":-0.01},{"s":"leader","t":38,"v":-0.08},{"s":"leader","t":38.8,"v":-0.09},{"s":"leader","t":39.6,"v":-0.09},{"s":"leader","t":40.4,"v":-0.01},{"s":"leader","t":40.9,"v":0.05},{"s":"leader","t":41.5,"v":0.21},{"s":"leader","t":42.1,"v":0.32},{"s":"leader","t":42.5,"v":0.42},{"s":"leader","t":43.1,"v":0.44},{"s":"leader","t":43.5,"v":0.46},{"s":"leader","t":44.1,"v":0.31},{"s":"leader","t":44.7,"v":0.37},{"s":"leader","t":45.3,"v":0.27},{"s":"leader","t":45.7,"v":0.21},{"s":"leader","t":46.1,"v":0.08},{"s":"leader","t":46.6,"v":-0.01},{"s":"leader","t":47.2,"v":-0.09},{"s":"leader","t":47.8,"v":-0.17},{"s":"leader","t":48.4,"v":-0.28},{"s":"leader","t":49,"v":-0.33},{"s":"leader","t":49.6,"v":-0.3},{"s":"leader","t":50.2,"v":-0.22},{"s":"leader","t":51,"v":-0.14},{"s":"leader","t":51.8,"v":-0.01},{"s":"leader","t":52.7,"v":0.1},{"s":"leader","t":53.5,"v":0.19},{"s":"leader","t":54.1,"v":0.23},{"s":"leader","t":54.7,"v":0.15},{"s":"leader","t":55.3,"v":0.05},{"s":"leader","t":55.9,"v":0.02},{"s":"leader","t":56.7,"v":-0.04},{"s":"leader","t":57.1,"v":-0.13},{"s":"leader","t":57.7,"v":-0.11},{"s":"leader","t":58.5,"v":-0.09},{"s":"leader","t":59.4,"v":-0.16},{"s":"leader","t":60,"v":-0.11},{"s":"leader","t":60.8,"v":-0.03},{"s":"leader","t":61.5,"v":0},{"s":"leader","t":62.1,"v":0.08},{"s":"leader","t":62.9,"v":0.16},{"s":"leader","t":63.6,"v":0.16},{"s":"leader","t":64.2,"v":0.12},{"s":"leader","t":65.1,"v":0.08},{"s":"leader","t":65.7,"v":-0.04},{"s":"leader","t":66.3,"v":-0.09},{"s":"leader","t":66.9,"v":-0.09},{"s":"leader","t":67.6,"v":-0.04},{"s":"leader","t":68.4,"v":-0.08},{"s":"leader","t":69.3,"v":-0.16},{"s":"leader","t":69.9,"v":-0.27},{"s":"leader","t":70.5,"v":-0.46},{"s":"leader","t":71.4,"v":-0.52},{"s":"leader","t":72,"v":-0.49},{"s":"leader","t":72.6,"v":-0.36},{"s":"leader","t":73.5,"v":-0.2},{"s":"leader","t":74.1,"v":-0.01},{"s":"leader","t":74.7,"v":0.15},{"s":"leader","t":75.6,"v":0.27},{"s":"leader","t":76.2,"v":0.34},{"s":"leader","t":76.8,"v":0.36},{"s":"leader","t":77.5,"v":0.29},{"s":"leader","t":78.1,"v":0.12},{"s":"leader","t":78.7,"v":-0.04},{"s":"leader","t":79.4,"v":-0.17},{"s":"leader","t":80,"v":-0.28},{"s":"leader","t":80.6,"v":-0.33},{"s":"leader","t":81.3,"v":-0.45},{"s":"leader","t":81.9,"v":-0.52},{"s":"leader","t":82.5,"v":-0.45},{"s":"leader","t":83.2,"v":-0.27},{"s":"leader","t":84,"v":-0.11},{"s":"leader","t":84.6,"v":0.05},{"s":"leader","t":85.3,"v":0.23},{"s":"leader","t":85.9,"v":0.34},{"s":"leader","t":86.6,"v":0.4},{"s":"leader","t":87.4,"v":0.37},{"s":"leader","t":88.2,"v":0.29},{"s":"leader","t":88.8,"v":0.15},{"s":"leader","t":89.5,"v":0.05},{"s":"leader","t":90.1,"v":-0.11},{"s":"leader","t":90.7,"v":-0.2},{"s":"leader","t":91.4,"v":-0.2},{"s":"leader","t":92,"v":-0.24},{"s":"leader","t":92.8,"v":-0.3},{"s":"leader","t":93.5,"v":-0.24},{"s":"leader","t":94.1,"v":-0.12},{"s":"leader","t":94.9,"v":0.04},{"s":"leader","t":95.8,"v":0.13},{"s":"leader","t":96.4,"v":0.15},{"s":"leader","t":97.1,"v":0.08},{"s":"leader","t":97.9,"v":0.05},{"s":"leader","t":98.7,"v":0.02},{"s":"leader","t":99.6,"v":-0.04},{"s":"leader","t":100.4,"v":-0.09},{"s":"leader","t":101.3,"v":-0.17},{"s":"leader","t":102.3,"v":-0.3},{"s":"leader","t":103,"v":-0.24},{"s":"leader","t":103.6,"v":-0.14},{"s":"leader","t":104.4,"v":-0.11},{"s":"leader","t":105.3,"v":-0.11},{"s":"leader","t":106.1,"v":0.02},{"s":"leader","t":107,"v":0.06},{"s":"leader","t":107.8,"v":-0.01},{"s":"leader","t":108.8,"v":-0.09},{"s":"leader","t":109.7,"v":-0.12},{"s":"leader","t":110.5,"v":-0.06},{"s":"leader","t":111.4,"v":-0.06},{"s":"leader","t":112.2,"v":0.02},{"s":"leader","t":113.1,"v":0.02},{"s":"leader","t":113.9,"v":0.04},{"s":"leader","t":114.7,"v":-0.01},{"s":"leader","t":115.6,"v":0},{"s":"leader","t":116.4,"v":0.02},{"s":"leader","t":117.3,"v":0},{"s":"leader","t":118.1,"v":-0.09},{"s":"leader","t":118.9,"v":-0.17},{"s":"leader","t":120,"v":-0.2},
      {"s":"follower1","t":0,"v":0},{"s":"follower1","t":1.3,"v":0},{"s":"follower1","t":2.9,"v":0.04},{"s":"follower1","t":3.8,"v":0.01},{"s":"follower1","t":4.8,"v":-0.03},{"s":"follower1","t":5.6,"v":-0.01},{"s":"follower1","t":6.4,"v":-0.02},{"s":"follower1","t":7.2,"v":0.03},{"s":"follower1","t":8.3,"v":0.03},{"s":"follower1","t":9.3,"v":0.07},{"s":"follower1","t":10.2,"v":0.01},{"s":"follower1","t":10.9,"v":0.02},{"s":"follower1","t":11.8,"v":-0.07},{"s":"follower1","t":13.1,"v":-0.1},{"s":"follower1","t":14.2,"v":-0.06},{"s":"follower1","t":15.4,"v":-0.03},{"s":"follower1","t":16.6,"v":0.03},{"s":"follower1","t":17.6,"v":0.03},{"s":"follower1","t":18.4,"v":0.08},{"s":"follower1","t":19.1,"v":0.05},{"s":"follower1","t":20.3,"v":0.03},{"s":"follower1","t":21.5,"v":-0.03},{"s":"follower1","t":22.7,"v":-0.07},{"s":"follower1","t":23.5,"v":-0.03},{"s":"follower1","t":24.8,"v":-0.04},{"s":"follower1","t":26,"v":-0.03},{"s":"follower1","t":27.2,"v":0.01},{"s":"follower1","t":28.4,"v":0},{"s":"follower1","t":29.6,"v":0.01},{"s":"follower1","t":30.5,"v":-0.04},{"s":"follower1","t":31.7,"v":0},{"s":"follower1","t":32.9,"v":0.01},{"s":"follower1","t":34.1,"v":0},{"s":"follower1","t":35.3,"v":0.02},{"s":"follower1","t":36.1,"v":-0.01},{"s":"follower1","t":37.4,"v":-0.04},{"s":"follower1","t":38.6,"v":0.01},{"s":"follower1","t":39.4,"v":-0.02},{"s":"follower1","t":40.6,"v":0.01},{"s":"follower1","t":41.9,"v":0.03},{"s":"follower1","t":43.1,"v":0},{"s":"follower1","t":43.9,"v":0.05},{"s":"follower1","t":44.7,"v":0.1},{"s":"follower1","t":45.5,"v":0.15},{"s":"follower1","t":46.3,"v":0.2},{"s":"follower1","t":47.2,"v":0.2},{"s":"follower1","t":48,"v":0.19},{"s":"follower1","t":48.8,"v":0.22},{"s":"follower1","t":49.4,"v":0.25},{"s":"follower1","t":50,"v":0.2},{"s":"follower1","t":51.2,"v":0.2},{"s":"follower1","t":52,"v":0.17},{"s":"follower1","t":52.9,"v":0.12},{"s":"follower1","t":53.5,"v":0.09},{"s":"follower1","t":54.5,"v":0.1},{"s":"follower1","t":55.7,"v":0.13},{"s":"follower1","t":56.9,"v":0.16},{"s":"follower1","t":57.7,"v":0.2},{"s":"follower1","t":58.3,"v":0.22},{"s":"follower1","t":59.1,"v":0.17},{"s":"follower1","t":60,"v":0.2},{"s":"follower1","t":60.8,"v":0.16},{"s":"follower1","t":61.9,"v":0.17},{"s":"follower1","t":63.1,"v":0.15},{"s":"follower1","t":64.4,"v":0.14},{"s":"follower1","t":65.7,"v":0.12},{"s":"follower1","t":66.5,"v":0.15},{"s":"follower1","t":67.4,"v":0.2},{"s":"follower1","t":68.2,"v":0.22},{"s":"follower1","t":69,"v":0.19},{"s":"follower1","t":69.9,"v":0.16},{"s":"follower1","t":70.7,"v":0.17},{"s":"follower1","t":71.4,"v":0.11},{"s":"follower1","t":72.4,"v":0.14},{"s":"follower1","t":73.3,"v":0.13},{"s":"follower1","t":73.9,"v":0.05},{"s":"follower1","t":74.5,"v":-0.02},{"s":"follower1","t":75.6,"v":-0.07},{"s":"follower1","t":76.6,"v":-0.1},{"s":"follower1","t":77.7,"v":-0.07},{"s":"follower1","t":78.7,"v":-0.05},{"s":"follower1","t":79.6,"v":-0.02},{"s":"follower1","t":80.4,"v":0.05},{"s":"follower1","t":81.3,"v":0.09},{"s":"follower1","t":82.1,"v":0.08},{"s":"follower1","t":82.9,"v":0.06},{"s":"follower1","t":84,"v":0.05},{"s":"follower1","t":84.8,"v":0.03},{"s":"follower1","t":85.5,"v":-0.05},{"s":"follower1","t":86.3,"v":-0.08},{"s":"follower1","t":87.1,"v":-0.08},{"s":"follower1","t":88,"v":-0.1},{"s":"follower1","t":88.8,"v":-0.08},{"s":"follower1","t":89.7,"v":0},{"s":"follower1","t":90.5,"v":0.03},{"s":"follower1","t":91.4,"v":0.07},{"s":"follower1","t":92.2,"v":0.06},{"s":"follower1","t":93,"v":0.07},{"s":"follower1","t":93.9,"v":0.03},{"s":"follower1","t":94.7,"v":0},{"s":"follower1","t":95.6,"v":0.01},{"s":"follower1","t":96.4,"v":-0.03},{"s":"follower1","t":97.3,"v":-0.07},{"s":"follower1","t":98.1,"v":-0.05},{"s":"follower1","t":98.9,"v":-0.03},{"s":"follower1","t":99.8,"v":0.01},{"s":"follower1","t":100.6,"v":0.03},{"s":"follower1","t":101.5,"v":0.03},{"s":"follower1","t":102.3,"v":0.02},{"s":"follower1","t":103.1,"v":0},{"s":"follower1","t":104,"v":0.03},{"s":"follower1","t":104.8,"v":0.03},{"s":"follower1","t":105.7,"v":-0.03},{"s":"follower1","t":106.5,"v":-0.07},{"s":"follower1","t":107.4,"v":-0.02},{"s":"follower1","t":108.2,"v":-0.03},{"s":"follower1","t":109,"v":-0.03},{"s":"follower1","t":109.9,"v":0},{"s":"follower1","t":111.1,"v":0.03},{"s":"follower1","t":112.4,"v":0},{"s":"follower1","t":113.5,"v":-0.03},{"s":"follower1","t":114.5,"v":-0.02},{"s":"follower1","t":115.4,"v":-0.05},{"s":"follower1","t":116.2,"v":0},{"s":"follower1","t":117.5,"v":0.02},{"s":"follower1","t":118.3,"v":-0.02},{"s":"follower1","t":118.9,"v":-0.05},{"s":"follower1","t":119.6,"v":0.02},{"s":"follower1","t":120,"v":0},
      {"s":"follower2","t":0,"v":-0.01},{"s":"follower2","t":1.3,"v":-0.01},{"s":"follower2","t":2.8,"v":0.03},{"s":"follower2","t":3.6,"v":0},{"s":"follower2","t":4.6,"v":-0.04},{"s":"follower2","t":5.4,"v":-0.02},{"s":"follower2","t":6.2,"v":-0.03},{"s":"follower2","t":7,"v":0.02},{"s":"follower2","t":8.1,"v":0.02},{"s":"follower2","t":9.1,"v":0.06},{"s":"follower2","t":10,"v":0},{"s":"follower2","t":10.7,"v":0.02},{"s":"follower2","t":11.5,"v":-0.08},{"s":"follower2","t":12.9,"v":-0.11},{"s":"follower2","t":14,"v":-0.07},{"s":"follower2","t":15.2,"v":-0.04},{"s":"follower2","t":16.4,"v":0.02},{"s":"follower2","t":17.4,"v":0.02},{"s":"follower2","t":18.2,"v":0.07},{"s":"follower2","t":18.9,"v":0.04},{"s":"follower2","t":20.1,"v":0.02},{"s":"follower2","t":21.3,"v":-0.04},{"s":"follower2","t":22.5,"v":-0.08},{"s":"follower2","t":23.3,"v":-0.04},{"s":"follower2","t":24.6,"v":-0.05},{"s":"follower2","t":25.8,"v":-0.04},{"s":"follower2","t":27,"v":0},{"s":"follower2","t":28.2,"v":-0.01},{"s":"follower2","t":29.4,"v":0},{"s":"follower2","t":30.3,"v":-0.05},{"s":"follower2","t":31.5,"v":-0.01},{"s":"follower2","t":32.7,"v":0},{"s":"follower2","t":33.9,"v":-0.01},{"s":"follower2","t":35.1,"v":0.01},{"s":"follower2","t":35.9,"v":-0.02},{"s":"follower2","t":37.2,"v":-0.05},{"s":"follower2","t":38.4,"v":0},{"s":"follower2","t":39.2,"v":-0.03},{"s":"follower2","t":40.4,"v":0},{"s":"follower2","t":41.7,"v":0.02},{"s":"follower2","t":42.9,"v":-0.01},{"s":"follower2","t":43.7,"v":0.05},{"s":"follower2","t":44.5,"v":0.1},{"s":"follower2","t":45.3,"v":0.15},{"s":"follower2","t":46.1,"v":0.19},{"s":"follower2","t":47,"v":0.19},{"s":"follower2","t":47.8,"v":0.18},{"s":"follower2","t":48.6,"v":0.21},{"s":"follower2","t":49.2,"v":0.24},{"s":"follower2","t":49.8,"v":0.19},{"s":"follower2","t":51,"v":0.19},{"s":"follower2","t":51.8,"v":0.16},{"s":"follower2","t":52.7,"v":0.12},{"s":"follower2","t":53.3,"v":0.08},{"s":"follower2","t":54.3,"v":0.1},{"s":"follower2","t":55.5,"v":0.12},{"s":"follower2","t":56.7,"v":0.15},{"s":"follower2","t":57.5,"v":0.19},{"s":"follower2","t":58.1,"v":0.21},{"s":"follower2","t":58.9,"v":0.16},{"s":"follower2","t":59.8,"v":0.19},{"s":"follower2","t":60.6,"v":0.15},{"s":"follower2","t":61.7,"v":0.16},{"s":"follower2","t":62.9,"v":0.15},{"s":"follower2","t":64.2,"v":0.13},{"s":"follower2","t":65.5,"v":0.12},{"s":"follower2","t":66.3,"v":0.15},{"s":"follower2","t":67.2,"v":0.19},{"s":"follower2","t":68,"v":0.21},{"s":"follower2","t":68.8,"v":0.18},{"s":"follower2","t":69.7,"v":0.15},{"s":"follower2","t":70.5,"v":0.16},{"s":"follower2","t":71.2,"v":0.1},{"s":"follower2","t":72.2,"v":0.13},{"s":"follower2","t":73.1,"v":0.12},{"s":"follower2","t":73.7,"v":0.04},{"s":"follower2","t":74.3,"v":-0.03},{"s":"follower2","t":75.4,"v":-0.08},{"s":"follower2","t":76.4,"v":-0.11},{"s":"follower2","t":77.5,"v":-0.08},{"s":"follower2","t":78.5,"v":-0.06},{"s":"follower2","t":79.4,"v":-0.03},{"s":"follower2","t":80.2,"v":0.04},{"s":"follower2","t":81.1,"v":0.08},{"s":"follower2","t":81.9,"v":0.07},{"s":"follower2","t":82.7,"v":0.05},{"s":"follower2","t":83.8,"v":0.04},{"s":"follower2","t":84.6,"v":0.02},{"s":"follower2","t":85.3,"v":-0.06},{"s":"follower2","t":86.1,"v":-0.09},{"s":"follower2","t":86.9,"v":-0.09},{"s":"follower2","t":87.8,"v":-0.11},{"s":"follower2","t":88.6,"v":-0.09},{"s":"follower2","t":89.5,"v":-0.01},{"s":"follower2","t":90.3,"v":0.02},{"s":"follower2","t":91.2,"v":0.06},{"s":"follower2","t":92,"v":0.05},{"s":"follower2","t":92.8,"v":0.06},{"s":"follower2","t":93.7,"v":0.02},{"s":"follower2","t":94.5,"v":-0.01},{"s":"follower2","t":95.4,"v":0},{"s":"follower2","t":96.2,"v":-0.04},{"s":"follower2","t":97.1,"v":-0.08},{"s":"follower2","t":97.9,"v":-0.06},{"s":"follower2","t":98.7,"v":-0.04},{"s":"follower2","t":99.6,"v":0},{"s":"follower2","t":100.4,"v":0.02},{"s":"follower2","t":101.3,"v":0.02},{"s":"follower2","t":102.1,"v":0.01},{"s":"follower2","t":102.9,"v":-0.01},{"s":"follower2","t":103.8,"v":0.02},{"s":"follower2","t":104.6,"v":0.02},{"s":"follower2","t":105.5,"v":-0.04},{"s":"follower2","t":106.3,"v":-0.08},{"s":"follower2","t":107.2,"v":-0.03},{"s":"follower2","t":108,"v":-0.04},{"s":"follower2","t":108.8,"v":-0.04},{"s":"follower2","t":109.7,"v":-0.01},{"s":"follower2","t":110.9,"v":0.02},{"s":"follower2","t":112.2,"v":-0.01},{"s":"follower2","t":113.3,"v":-0.04},{"s":"follower2","t":114.3,"v":-0.03},{"s":"follower2","t":115.2,"v":-0.06},{"s":"follower2","t":116,"v":-0.01},{"s":"follower2","t":117.3,"v":0.01},{"s":"follower2","t":118.1,"v":-0.03},{"s":"follower2","t":118.7,"v":-0.07},{"s":"follower2","t":119.4,"v":0.02},{"s":"follower2","t":120,"v":-0.01}
    ],
    "zero": [{"t":0,"v":0},{"t":120,"v":0}]
  },
  "vconcat": [
    {
      "width": 4512,
      "height": 800,
      "layer": [
        {
          "data": {"name": "a"},
          "mark": {"type": "line", "strokeWidth": 24, "strokeJoin": "round", "strokeCap": "round"},
          "encoding": {
            "x": {"field": "t", "type": "quantitative", "scale": {"domain": [0, 120], "nice": false, "zero": false}, "axis": {"values": [0, 20, 40, 60, 80, 100, 120], "title": null, "labelExpr": "format(datum.value, 'd')"}},
            "y": {"field": "v", "type": "quantitative", "scale": {"domain": [-2, 6], "nice": false}, "axis": {"values": [-2, 0, 2, 4, 6], "title": "Fx [N]", "labelExpr": "datum.value < 0 ? '-' + format(-datum.value, 'd') : format(datum.value, 'd')"}},
            "color": {"field": "s", "type": "nominal", "sort": null, "scale": {"domain": ["leader", "follower1", "follower2"], "range": ["#ff0000", "#00ff00", "#0000ff"]}}
          }
        },
        {
          "data": {"name": "zero"},
          "mark": {"type": "line", "color": "#0072bd", "strokeWidth": 25, "strokeDash": [26, 24], "strokeCap": "butt"},
          "encoding": {
            "x": {"field": "t", "type": "quantitative", "axis": {"orient": "top", "labels": false, "title": null, "values": [0, 20, 40, 60, 80, 100, 120]}},
            "y": {"field": "v", "type": "quantitative", "axis": {"orient": "right", "labels": false, "title": null, "values": [-2, 0, 2, 4, 6]}}
          }
        },
        {
          "data": {"values": [{"t": 1.7, "v": -0.93, "txt": "(a)"}]},
          "mark": {"type": "text", "align": "left", "baseline": "middle", "fontSize": 102, "font": "Liberation Sans"},
          "encoding": {
            "x": {"field": "t", "type": "quantitative", "axis": null},
            "y": {"field": "v", "type": "quantitative", "axis": null},
            "text": {"field": "txt"}
          }
        }
      ],
      "resolve": {"axis": {"x": "independent", "y": "independent"}}
    },
    {
      "width": 4512,
      "height": 800,
      "layer": [
        {
          "data": {"name": "b"},
          "mark": {"type": "line", "strokeWidth": 24, "strokeJoin": "round", "strokeCap": "round"},
          "encoding": {
            "x": {"field": "t", "type": "quantitative", "scale": {"domain": [0, 120], "nice": false, "zero": false}, "axis": {"values": [0, 20, 40, 60, 80, 100, 120], "title": null, "labelExpr": "format(datum.value, 'd')"}},
            "y": {"field": "v", "type": "quantitative", "scale": {"domain": [-1, 2], "nice": false}, "axis": {"values": [-1, 0, 1, 2], "title": "Fy [N]", "labelExpr": "datum.value < 0 ? '-' + format(-datum.value, 'd') : format(datum.value, 'd')"}},
            "color": {"field": "s", "type": "nominal", "sort": null, "scale": {"domain": ["leader", "follower1", "follower2"], "range": ["#ff0000", "#00ff00", "#0000ff"]}}
          }
        },
        {
          "data": {"name": "zero"},
          "mark": {"type": "line", "color": "#0072bd", "strokeWidth": 25, "strokeDash": [26, 24], "strokeCap": "butt"},
          "encoding": {
            "x": {"field": "t", "type": "quantitative", "axis": {"orient": "top", "labels": false, "title": null, "values": [0, 20, 40, 60, 80, 100, 120]}},
            "y": {"field": "v", "type": "quantitative", "axis": {"orient": "right", "labels": false, "title": null, "values": [-1, 0, 1, 2]}}
          }
        },
        {
          "data": {"values": [{"t": 1.6, "v": -0.56, "txt": "(b)"}]},
          "mark": {"type": "text", "align": "left", "baseline": "middle", "fontSize": 102, "font": "Liberation Sans"},
          "encoding": {
            "x": {"field": "t", "type": "quantitative", "axis": null},
            "y": {"field": "v", "type": "quantitative", "axis": null},
            "text": {"field": "txt"}
          }
        }
      ],
      "resolve": {"axis": {"x": "independent", "y": "independent"}}
    },
    {
      "width": 4512,
      "height": 800,
      "layer": [
        {
          "data": {"name": "c"},
          "mark": {"type": "line", "strokeWidth": 24, "strokeJoin": "round", "strokeCap": "round"},
          "encoding": {
            "x": {"field": "t", "type": "quantitative", "scale": {"domain": [0, 120], "nice": false, "zero": false}, "axis": {"values": [0, 20, 40, 60, 80, 100, 120], "title": "Time [s]", "labelExpr": "format(datum.value, 'd')"}},
            "y": {"field": "v", "type": "quantitative", "scale": {"domain": [-1, 1], "nice": false}, "axis": {"values": [-1, 0, 1], "title": "Torque [N· m]", "labelExpr": "datum.value < 0 ? '-' + format(-datum.value, 'd') : format(datum.value, 'd')"}},
            "color": {"field": "s", "type": "nominal", "sort": null, "scale": {"domain": ["leader", "follower1", "follower2"], "range": ["#ff0000", "#00ff00", "#0000ff"]}}
          }
        },
        {
          "data": {"name": "zero"},
          "mark": {"type": "line", "color": "#0072bd", "strokeWidth": 25, "strokeDash": [26, 24], "strokeCap": "butt"},
          "encoding": {
            "x": {"field": "t", "type": "quantitative", "axis": {"orient": "top", "labels": false, "title": null, "values": [0, 20, 40, 60, 80, 100, 120]}},
            "y": {"field": "v", "type": "quantitative", "axis": {"orient": "right", "labels": false, "title": null, "values": [-1, 0, 1]}}
          }
        },
        {
          "data": {"values": [{"t": 1.65, "v": -0.74, "txt": "(c)"}]},
          "mark": {"type": "text", "align": "left", "baseline": "middle", "fontSize": 102, "font": "Liberation Sans"},
          "encoding": {
            "x": {"field": "t", "type": "quantitative", "axis": null},
            "y": {"field": "v", "type": "quantitative", "axis": null},
            "text": {"field": "txt"}
          }
        }
      ],
      "resolve": {"axis": {"x": "independent", "y": "independent"}}
    }
  ],
  "resolve": {"scale": {"color": "independent"}, "legend": {"color": "independent"}},
  "config": {
    "font": "Liberation Sans",
    "view": {"stroke": "black", "strokeWidth": 4},
    "axis": {
      "grid": false,
      "domain": false,
      "tickSize": -45,
      "tickWidth": 4,
      "tickColor": "black",
      "labelFont": "Liberation Sans",
      "labelFontSize": 102,
      "labelColor": "black",
      "labelFlush": false,
      "labelOverlap": false,
      "labelLimit": 2000,
      "titleFont": "Liberation Sans",
      "titleFontSize": 102,
      "titleFontWeight": "normal",
      "titleColor": "black",
      "titleLimit": 3000
    },
    "axisBottom": {"labelPadding": 107, "titlePadding": 32},
    "axisLeft": {"labelPadding": 87, "titlePadding": 38},
    "legend": {
      "orient": "none",
      "legendX": 2484,
      "legendY": -12,
      "direction": "horizontal",
      "title": null,
      "padding": 0,
      "symbolType": "stroke",
      "symbolStrokeWidth": 25,
      "symbolSize": 62500,
      "labelFont": "Liberation Sans",
      "labelFontSize": 102,
      "labelColor": "black",
      "labelLimit": 2000,
      "labelOffset": 4,
      "columnPadding": 3
    }
  }
}
